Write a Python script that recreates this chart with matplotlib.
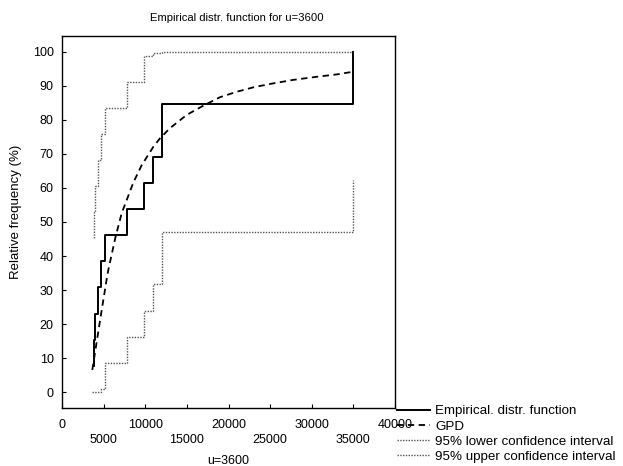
import matplotlib
matplotlib.use("Agg")
import matplotlib.pyplot as plt

plt.rcParams['font.family'] = ['Liberation Sans', 'DejaVu Sans']

# ---- data ----
jump_x = [3844, 3964, 4288, 4685, 5165, 7844, 9886, 10967, 11976, 34955]

emp_start_x = 3844
emp_start = 7.69
emp_levels = [15.38, 23.08, 30.77, 38.46, 46.15, 53.85, 61.54, 69.23, 84.62, 100.0]

upper_start_x = 3844
upper_start = 45.2
upper_levels = [53.0, 60.6, 68.2, 75.9, 83.4, 91.1, 98.8, 99.6, 100.0, 100.0]

lower_start_x = 3640
lower_start = 0.0
lower_levels = [0.0, 0.0, 0.0, 0.9, 8.6, 16.3, 23.9, 31.7, 47.1, 62.4]

gpd_x = [3640, 4170, 4770, 5370, 5570, 6450, 7170, 8570, 9570, 10970, 11770,
         12970, 14980, 16970, 18980, 20990, 22980, 24990, 27790, 30590, 32990, 35000]
gpd_y = [6.5, 14.8, 24.1, 33.2, 36.0, 45.8, 52.6, 61.6, 66.7, 72.1, 74.6,
         77.6, 81.5, 84.2, 86.7, 88.3, 89.6, 90.6, 91.8, 92.7, 93.4, 94.2]

x_ticks = [0, 5000, 10000, 15000, 20000, 25000, 30000, 35000, 40000]
y_ticks = [0, 10, 20, 30, 40, 50, 60, 70, 80, 90, 100]

title = "Empirical distr. function for u=3600"
xlabel = "u=3600"
ylabel = "Relative frequency (%)"
labels = ["Empirical. distr. function", "GPD",
          "95% lower confidence interval", "95% upper confidence interval"]

# ---- figure ----
fig = plt.figure(figsize=(6.23, 4.66), dpi=100)
ax = fig.add_axes([62/623, 58/466, 333/623, 372/466])

fs = 9
h_emp, = ax.step([emp_start_x] + jump_x, [emp_start] + emp_levels, where='post',
                 color='black', lw=1.4, label=labels[0])
h_gpd, = ax.plot(gpd_x, gpd_y, color='black', lw=1.3, ls=(0, (3.5, 2.5)),
                 label=labels[1])
h_low, = ax.step([lower_start_x] + jump_x, [lower_start] + lower_levels, where='post',
                 color='#555555', lw=1.0, ls=(0, (1, 1)), label=labels[2])
h_up, = ax.step([upper_start_x] + jump_x, [upper_start] + upper_levels, where='post',
                color='#555555', lw=1.0, ls=(0, (1, 1)), label=labels[3])

ax.set_xlim(0, 40000)
ax.set_ylim(-4.7, 104.7)
ax.set_yticks(y_ticks)
ax.set_yticklabels([str(v) for v in y_ticks], fontsize=fs)
ax.set_xticks(x_ticks)
xt_labels = []
for i, v in enumerate(x_ticks):
    xt_labels.append(str(v) if i % 2 == 0 else "\n" + str(v))
ax.set_xticklabels(xt_labels, fontsize=fs, linespacing=1.3)
ax.tick_params(axis='y', direction='in', length=3, width=0.8, pad=6)
ax.tick_params(axis='x', direction='in', length=3, width=0.8, pad=8)
for s in ax.spines.values():
    s.set_linewidth(1.0)
    s.set_color('black')

fig.text(237/623, 1 - 18/466, title, fontsize=8.1, ha='center', va='center')
fig.text(228/623, 1 - 461/466, xlabel, fontsize=fs, ha='center', va='center')
fig.text(16/623, 1 - 212/466, ylabel, fontsize=9.5, ha='center', va='center',
         rotation=90)

fig.legend(handles=[h_emp, h_gpd, h_low, h_up], labels=labels,
           loc='upper left', bbox_to_anchor=(397/623, 1 - 405/466),
           frameon=False, fontsize=9.6, handlelength=2.5, handletextpad=0.35,
           labelspacing=0.22, borderpad=0, borderaxespad=0)

fig.savefig("out.png", dpi=100)
